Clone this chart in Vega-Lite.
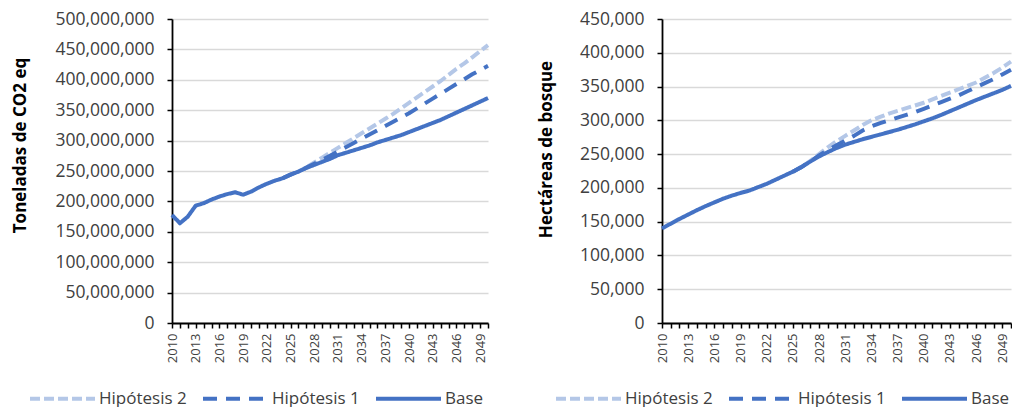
{
  "$schema": "https://vega.github.io/schema/vega-lite/v6.json",
  "padding": {"left": 11, "top": 10, "right": 0, "bottom": 0},
  "background": "white",
  "bounds": "flush",
  "spacing": 174,
  "config": {
    "view": {"stroke": null},
    "font": "Open Sans",
    "axis": {"labelFont": "Open Sans", "titleFont": "Open Sans", "labelColor": "#404040", "titleColor": "#000000", "domainColor": "#000000", "domainWidth": 1.8, "tickColor": "#000000", "tickWidth": 1.5, "tickSize": 5, "gridColor": "#D9D9D9", "gridWidth": 1.5},
    "legend": {"labelFont": "Open Sans"}
  },
  "datasets": {
    "co2": [
      {"year": 2024, "serie": "Hipótesis 2", "value": 238000000},
      {"year": 2025, "serie": "Hipótesis 2", "value": 244000000},
      {"year": 2026, "serie": "Hipótesis 2", "value": 249000000},
      {"year": 2027, "serie": "Hipótesis 2", "value": 256000000},
      {"year": 2028, "serie": "Hipótesis 2", "value": 264000000},
      {"year": 2029, "serie": "Hipótesis 2", "value": 272000000},
      {"year": 2030, "serie": "Hipótesis 2", "value": 280000000},
      {"year": 2031, "serie": "Hipótesis 2", "value": 288000000},
      {"year": 2032, "serie": "Hipótesis 2", "value": 296000000},
      {"year": 2033, "serie": "Hipótesis 2", "value": 304000000},
      {"year": 2034, "serie": "Hipótesis 2", "value": 312000000},
      {"year": 2035, "serie": "Hipótesis 2", "value": 320000000},
      {"year": 2036, "serie": "Hipótesis 2", "value": 328000000},
      {"year": 2037, "serie": "Hipótesis 2", "value": 336000000},
      {"year": 2038, "serie": "Hipótesis 2", "value": 344000000},
      {"year": 2039, "serie": "Hipótesis 2", "value": 353000000},
      {"year": 2040, "serie": "Hipótesis 2", "value": 362000000},
      {"year": 2041, "serie": "Hipótesis 2", "value": 371000000},
      {"year": 2042, "serie": "Hipótesis 2", "value": 380000000},
      {"year": 2043, "serie": "Hipótesis 2", "value": 389000000},
      {"year": 2044, "serie": "Hipótesis 2", "value": 398000000},
      {"year": 2045, "serie": "Hipótesis 2", "value": 408000000},
      {"year": 2046, "serie": "Hipótesis 2", "value": 418000000},
      {"year": 2047, "serie": "Hipótesis 2", "value": 427000000},
      {"year": 2048, "serie": "Hipótesis 2", "value": 437000000},
      {"year": 2049, "serie": "Hipótesis 2", "value": 447000000},
      {"year": 2050, "serie": "Hipótesis 2", "value": 457000000},
      {"year": 2024, "serie": "Hipótesis 1", "value": 238000000},
      {"year": 2025, "serie": "Hipótesis 1", "value": 244000000},
      {"year": 2026, "serie": "Hipótesis 1", "value": 249000000},
      {"year": 2027, "serie": "Hipótesis 1", "value": 255500000},
      {"year": 2028, "serie": "Hipótesis 1", "value": 262000000},
      {"year": 2029, "serie": "Hipótesis 1", "value": 268500000},
      {"year": 2030, "serie": "Hipótesis 1", "value": 275000000},
      {"year": 2031, "serie": "Hipótesis 1", "value": 282000000},
      {"year": 2032, "serie": "Hipótesis 1", "value": 289000000},
      {"year": 2033, "serie": "Hipótesis 1", "value": 296000000},
      {"year": 2034, "serie": "Hipótesis 1", "value": 303000000},
      {"year": 2035, "serie": "Hipótesis 1", "value": 310000000},
      {"year": 2036, "serie": "Hipótesis 1", "value": 317000000},
      {"year": 2037, "serie": "Hipótesis 1", "value": 324000000},
      {"year": 2038, "serie": "Hipótesis 1", "value": 331000000},
      {"year": 2039, "serie": "Hipótesis 1", "value": 338000000},
      {"year": 2040, "serie": "Hipótesis 1", "value": 345000000},
      {"year": 2041, "serie": "Hipótesis 1", "value": 353000000},
      {"year": 2042, "serie": "Hipótesis 1", "value": 361000000},
      {"year": 2043, "serie": "Hipótesis 1", "value": 369000000},
      {"year": 2044, "serie": "Hipótesis 1", "value": 377000000},
      {"year": 2045, "serie": "Hipótesis 1", "value": 385000000},
      {"year": 2046, "serie": "Hipótesis 1", "value": 393000000},
      {"year": 2047, "serie": "Hipótesis 1", "value": 401000000},
      {"year": 2048, "serie": "Hipótesis 1", "value": 409000000},
      {"year": 2049, "serie": "Hipótesis 1", "value": 416000000},
      {"year": 2050, "serie": "Hipótesis 1", "value": 423000000},
      {"year": 2010, "serie": "Base", "value": 177800000},
      {"year": 2011, "serie": "Base", "value": 164000000},
      {"year": 2012, "serie": "Base", "value": 175000000},
      {"year": 2013, "serie": "Base", "value": 193000000},
      {"year": 2014, "serie": "Base", "value": 197000000},
      {"year": 2015, "serie": "Base", "value": 203000000},
      {"year": 2016, "serie": "Base", "value": 208000000},
      {"year": 2017, "serie": "Base", "value": 212000000},
      {"year": 2018, "serie": "Base", "value": 215000000},
      {"year": 2019, "serie": "Base", "value": 211000000},
      {"year": 2020, "serie": "Base", "value": 216000000},
      {"year": 2021, "serie": "Base", "value": 223000000},
      {"year": 2022, "serie": "Base", "value": 229000000},
      {"year": 2023, "serie": "Base", "value": 234000000},
      {"year": 2024, "serie": "Base", "value": 238000000},
      {"year": 2025, "serie": "Base", "value": 244000000},
      {"year": 2026, "serie": "Base", "value": 249000000},
      {"year": 2027, "serie": "Base", "value": 255000000},
      {"year": 2028, "serie": "Base", "value": 260000000},
      {"year": 2029, "serie": "Base", "value": 265000000},
      {"year": 2030, "serie": "Base", "value": 270000000},
      {"year": 2031, "serie": "Base", "value": 276000000},
      {"year": 2032, "serie": "Base", "value": 280000000},
      {"year": 2033, "serie": "Base", "value": 284000000},
      {"year": 2034, "serie": "Base", "value": 288000000},
      {"year": 2035, "serie": "Base", "value": 292000000},
      {"year": 2036, "serie": "Base", "value": 297000000},
      {"year": 2037, "serie": "Base", "value": 301000000},
      {"year": 2038, "serie": "Base", "value": 305000000},
      {"year": 2039, "serie": "Base", "value": 309000000},
      {"year": 2040, "serie": "Base", "value": 314000000},
      {"year": 2041, "serie": "Base", "value": 319000000},
      {"year": 2042, "serie": "Base", "value": 324000000},
      {"year": 2043, "serie": "Base", "value": 329000000},
      {"year": 2044, "serie": "Base", "value": 334000000},
      {"year": 2045, "serie": "Base", "value": 340000000},
      {"year": 2046, "serie": "Base", "value": 346000000},
      {"year": 2047, "serie": "Base", "value": 352000000},
      {"year": 2048, "serie": "Base", "value": 358000000},
      {"year": 2049, "serie": "Base", "value": 364000000},
      {"year": 2050, "serie": "Base", "value": 370000000}
    ],
    "ha": [
      {"year": 2025, "serie": "Hipótesis 2", "value": 224000},
      {"year": 2026, "serie": "Hipótesis 2", "value": 231000},
      {"year": 2027, "serie": "Hipótesis 2", "value": 240000},
      {"year": 2028, "serie": "Hipótesis 2", "value": 250000},
      {"year": 2029, "serie": "Hipótesis 2", "value": 260000},
      {"year": 2030, "serie": "Hipótesis 2", "value": 269000},
      {"year": 2031, "serie": "Hipótesis 2", "value": 277000},
      {"year": 2032, "serie": "Hipótesis 2", "value": 285000},
      {"year": 2033, "serie": "Hipótesis 2", "value": 293000},
      {"year": 2034, "serie": "Hipótesis 2", "value": 300000},
      {"year": 2035, "serie": "Hipótesis 2", "value": 305000},
      {"year": 2036, "serie": "Hipótesis 2", "value": 310000},
      {"year": 2037, "serie": "Hipótesis 2", "value": 314000},
      {"year": 2038, "serie": "Hipótesis 2", "value": 318000},
      {"year": 2039, "serie": "Hipótesis 2", "value": 322000},
      {"year": 2040, "serie": "Hipótesis 2", "value": 326000},
      {"year": 2041, "serie": "Hipótesis 2", "value": 331000},
      {"year": 2042, "serie": "Hipótesis 2", "value": 336000},
      {"year": 2043, "serie": "Hipótesis 2", "value": 341000},
      {"year": 2044, "serie": "Hipótesis 2", "value": 346000},
      {"year": 2045, "serie": "Hipótesis 2", "value": 351000},
      {"year": 2046, "serie": "Hipótesis 2", "value": 356000},
      {"year": 2047, "serie": "Hipótesis 2", "value": 363000},
      {"year": 2048, "serie": "Hipótesis 2", "value": 370000},
      {"year": 2049, "serie": "Hipótesis 2", "value": 378000},
      {"year": 2050, "serie": "Hipótesis 2", "value": 387000},
      {"year": 2025, "serie": "Hipótesis 1", "value": 224000},
      {"year": 2026, "serie": "Hipótesis 1", "value": 231000},
      {"year": 2027, "serie": "Hipótesis 1", "value": 239000},
      {"year": 2028, "serie": "Hipótesis 1", "value": 248000},
      {"year": 2029, "serie": "Hipótesis 1", "value": 256000},
      {"year": 2030, "serie": "Hipótesis 1", "value": 263000},
      {"year": 2031, "serie": "Hipótesis 1", "value": 270000},
      {"year": 2032, "serie": "Hipótesis 1", "value": 277000},
      {"year": 2033, "serie": "Hipótesis 1", "value": 285000},
      {"year": 2034, "serie": "Hipótesis 1", "value": 291000},
      {"year": 2035, "serie": "Hipótesis 1", "value": 296000},
      {"year": 2036, "serie": "Hipótesis 1", "value": 300000},
      {"year": 2037, "serie": "Hipótesis 1", "value": 304000},
      {"year": 2038, "serie": "Hipótesis 1", "value": 308000},
      {"year": 2039, "serie": "Hipótesis 1", "value": 312000},
      {"year": 2040, "serie": "Hipótesis 1", "value": 317000},
      {"year": 2041, "serie": "Hipótesis 1", "value": 322000},
      {"year": 2042, "serie": "Hipótesis 1", "value": 327000},
      {"year": 2043, "serie": "Hipótesis 1", "value": 332000},
      {"year": 2044, "serie": "Hipótesis 1", "value": 337000},
      {"year": 2045, "serie": "Hipótesis 1", "value": 343000},
      {"year": 2046, "serie": "Hipótesis 1", "value": 349000},
      {"year": 2047, "serie": "Hipótesis 1", "value": 355000},
      {"year": 2048, "serie": "Hipótesis 1", "value": 361000},
      {"year": 2049, "serie": "Hipótesis 1", "value": 368000},
      {"year": 2050, "serie": "Hipótesis 1", "value": 375000},
      {"year": 2010, "serie": "Base", "value": 140000},
      {"year": 2011, "serie": "Base", "value": 147000},
      {"year": 2012, "serie": "Base", "value": 154000},
      {"year": 2013, "serie": "Base", "value": 160500},
      {"year": 2014, "serie": "Base", "value": 167000},
      {"year": 2015, "serie": "Base", "value": 173000},
      {"year": 2016, "serie": "Base", "value": 178500},
      {"year": 2017, "serie": "Base", "value": 184000},
      {"year": 2018, "serie": "Base", "value": 188500},
      {"year": 2019, "serie": "Base", "value": 192500},
      {"year": 2020, "serie": "Base", "value": 196000},
      {"year": 2021, "serie": "Base", "value": 201000},
      {"year": 2022, "serie": "Base", "value": 206000},
      {"year": 2023, "serie": "Base", "value": 212000},
      {"year": 2024, "serie": "Base", "value": 218000},
      {"year": 2025, "serie": "Base", "value": 224000},
      {"year": 2026, "serie": "Base", "value": 231000},
      {"year": 2027, "serie": "Base", "value": 239000},
      {"year": 2028, "serie": "Base", "value": 246500},
      {"year": 2029, "serie": "Base", "value": 253000},
      {"year": 2030, "serie": "Base", "value": 259000},
      {"year": 2031, "serie": "Base", "value": 264000},
      {"year": 2032, "serie": "Base", "value": 268000},
      {"year": 2033, "serie": "Base", "value": 272000},
      {"year": 2034, "serie": "Base", "value": 275500},
      {"year": 2035, "serie": "Base", "value": 279000},
      {"year": 2036, "serie": "Base", "value": 282500},
      {"year": 2037, "serie": "Base", "value": 286000},
      {"year": 2038, "serie": "Base", "value": 290000},
      {"year": 2039, "serie": "Base", "value": 294000},
      {"year": 2040, "serie": "Base", "value": 298500},
      {"year": 2041, "serie": "Base", "value": 303000},
      {"year": 2042, "serie": "Base", "value": 308000},
      {"year": 2043, "serie": "Base", "value": 313500},
      {"year": 2044, "serie": "Base", "value": 319000},
      {"year": 2045, "serie": "Base", "value": 324500},
      {"year": 2046, "serie": "Base", "value": 330000},
      {"year": 2047, "serie": "Base", "value": 335000},
      {"year": 2048, "serie": "Base", "value": 340000},
      {"year": 2049, "serie": "Base", "value": 345000},
      {"year": 2050, "serie": "Base", "value": 351000}
    ]
  },
  "resolve": {
    "scale": {"x": "independent", "y": "independent", "color": "independent", "strokeDash": "independent"},
    "legend": {"color": "independent", "strokeDash": "independent"}
  },
  "hconcat": [
    {
      "width": 316,
      "height": 304,
      "data": {"name": "co2"},
      "mark": {"type": "line", "strokeWidth": 4, "strokeJoin": "round", "strokeCap": "butt"},
      "encoding": {
        "x": {"field": "year", "type": "quantitative",
          "scale": {"domain": [2010, 2050], "nice": false, "zero": false},
          "axis": {"title": null, "grid": false, "format": "d", "values": [2010,2011,2012,2013,2014,2015,2016,2017,2018,2019,2020,2021,2022,2023,2024,2025,2026,2027,2028,2029,2030,2031,2032,2033,2034,2035,2036,2037,2038,2039,2040,2041,2042,2043,2044,2045,2046,2047,2048,2049,2050],
            "labelExpr": "(datum.value - 2010) % 3 == 0 ? datum.label : ''", "labelAngle": -90, "labelFontSize": 13, "labelPadding": 5, "labelOverlap": false, "labelFlush": false}},
        "y": {"field": "value", "type": "quantitative",
          "scale": {"domain": [0, 500000000], "nice": false},
          "axis": {"title": "Toneladas de CO2 eq", "titleFontSize": 17, "titleFontWeight": "bold", "titleAngle": -90, "titleX": -152, "titleY": 126, "titleAlign": "center", "titleBaseline": "middle",
            "values": [0,50000000,100000000,150000000,200000000,250000000,300000000,350000000,400000000,450000000,500000000],
            "format": ",d", "labelFontSize": 17.5, "labelPadding": 13, "grid": true}},
        "color": {"field": "serie", "type": "nominal",
          "scale": {"domain": ["Hipótesis 2", "Hipótesis 1", "Base"], "range": ["#B4C7E7", "#4472C4", "#4472C4"]},
          "legend": {"title": null, "orient": "none", "legendX": -144, "legendY": 345, "direction": "horizontal", "columns": 3, "columnPadding": 8, "labelOffset": 2, "labelFontSize": 17, "labelColor": "#404040", "symbolSize": 4225, "symbolStrokeWidth": 4, "symbolType": "stroke"}},
        "strokeDash": {"field": "serie", "type": "nominal",
          "scale": {"domain": ["Hipótesis 2", "Hipótesis 1", "Base"], "range": [[10, 4], [14, 9], [1, 0]]},
          "legend": {"title": null, "orient": "none", "legendX": -144, "legendY": 345, "direction": "horizontal", "columns": 3, "columnPadding": 8, "labelOffset": 2, "labelFontSize": 17, "labelColor": "#404040", "symbolSize": 4225, "symbolStrokeWidth": 4, "symbolType": "stroke"}}
      }
    },
    {
      "width": 349,
      "height": 304,
      "data": {"name": "ha"},
      "mark": {"type": "line", "strokeWidth": 4, "strokeJoin": "round", "strokeCap": "butt"},
      "encoding": {
        "x": {"field": "year", "type": "quantitative",
          "scale": {"domain": [2010, 2050], "nice": false, "zero": false},
          "axis": {"title": null, "grid": false, "format": "d", "values": [2010,2011,2012,2013,2014,2015,2016,2017,2018,2019,2020,2021,2022,2023,2024,2025,2026,2027,2028,2029,2030,2031,2032,2033,2034,2035,2036,2037,2038,2039,2040,2041,2042,2043,2044,2045,2046,2047,2048,2049,2050],
            "labelExpr": "(datum.value - 2010) % 3 == 0 ? datum.label : ''", "labelAngle": -90, "labelFontSize": 13, "labelPadding": 5, "labelOverlap": false, "labelFlush": false}},
        "y": {"field": "value", "type": "quantitative",
          "scale": {"domain": [0, 450000], "nice": false},
          "axis": {"title": "Hectáreas de bosque", "titleFontSize": 17, "titleFontWeight": "bold", "titleAngle": -90, "titleX": -116, "titleY": 130, "titleAlign": "center", "titleBaseline": "middle",
            "values": [0,50000,100000,150000,200000,250000,300000,350000,400000,450000],
            "format": ",d", "labelFontSize": 17.5, "labelPadding": 13, "grid": true}},
        "color": {"field": "serie", "type": "nominal",
          "scale": {"domain": ["Hipótesis 2", "Hipótesis 1", "Base"], "range": ["#B4C7E7", "#4472C4", "#4472C4"]},
          "legend": {"title": null, "orient": "none", "legendX": -108, "legendY": 345, "direction": "horizontal", "columns": 3, "columnPadding": 8, "labelOffset": 2, "labelFontSize": 17, "labelColor": "#404040", "symbolSize": 4225, "symbolStrokeWidth": 4, "symbolType": "stroke"}},
        "strokeDash": {"field": "serie", "type": "nominal",
          "scale": {"domain": ["Hipótesis 2", "Hipótesis 1", "Base"], "range": [[10, 4], [14, 9], [1, 0]]},
          "legend": {"title": null, "orient": "none", "legendX": -108, "legendY": 345, "direction": "horizontal", "columns": 3, "columnPadding": 8, "labelOffset": 2, "labelFontSize": 17, "labelColor": "#404040", "symbolSize": 4225, "symbolStrokeWidth": 4, "symbolType": "stroke"}}
      }
    }
  ]
}
